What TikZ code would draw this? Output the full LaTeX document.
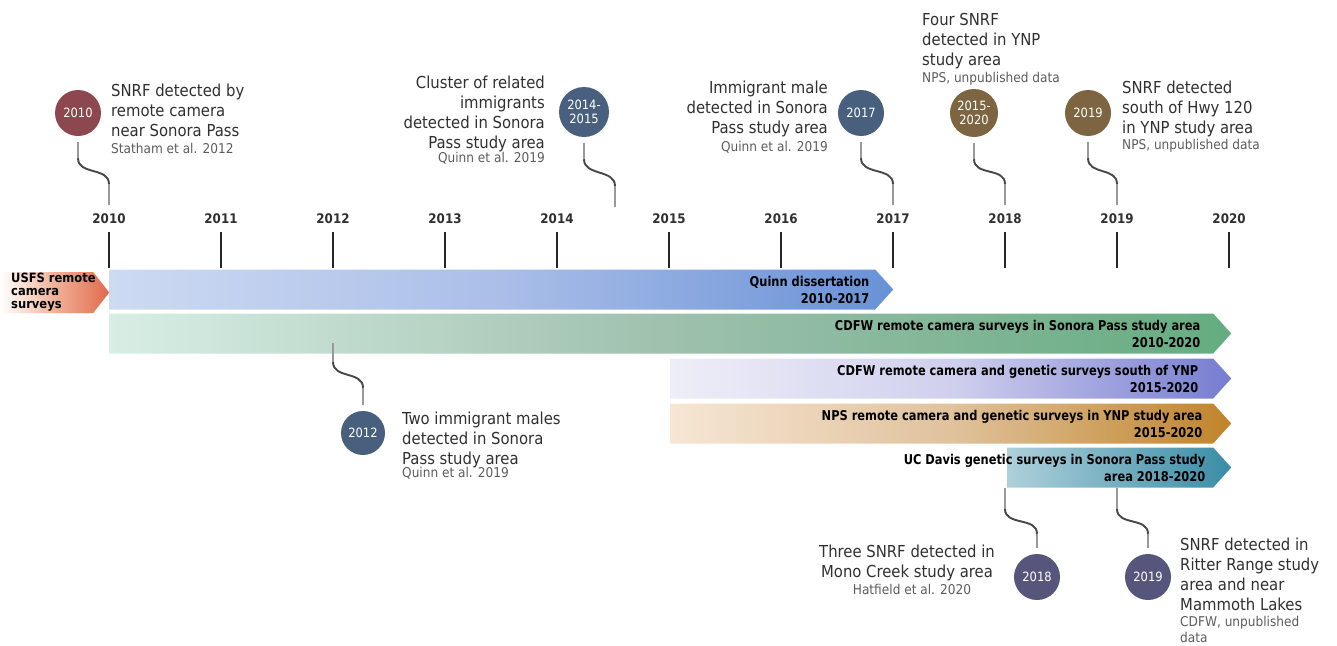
\documentclass[tikz,border=0pt]{standalone}
\usepackage{fontspec}
\setmainfont{DejaVu Sans Condensed}[BoldFont={DejaVu Sans Condensed Bold}]
\newfontfamily\barfont{DejaVu Sans Condensed Bold}[FakeStretch=0.94]
\usepackage{tikz}
\usetikzlibrary{positioning, shapes.symbols}
\definecolor{tlInk}{RGB}{48,48,48}
\definecolor{tlRef}{RGB}{92,92,92}
\definecolor{evRed}{RGB}{140,72,78}
\definecolor{evSlate}{RGB}{72,96,126}
\definecolor{evBrown}{RGB}{124,101,64}
\definecolor{evPurple}{RGB}{86,86,124}
\definecolor{usfsM}{RGB}{240,178,152}
\definecolor{usfsR}{RGB}{225,106,76}
\definecolor{blueL}{RGB}{205,218,242}
\definecolor{blueM}{RGB}{170,190,232}
\definecolor{blueR}{RGB}{104,145,214}
\definecolor{greenL}{RGB}{216,238,229}
\definecolor{greenM}{RGB}{158,192,173}
\definecolor{greenR}{RGB}{100,172,128}
\definecolor{purpL}{RGB}{238,238,248}
\definecolor{purpM}{RGB}{208,208,238}
\definecolor{purpR}{RGB}{118,124,208}
\definecolor{tanL}{RGB}{246,230,212}
\definecolor{tanM}{RGB}{224,194,156}
\definecolor{tanR}{RGB}{192,132,42}
\definecolor{tealL}{RGB}{174,208,218}
\definecolor{tealR}{RGB}{58,140,166}

\begin{document}
\begin{tikzpicture}[x=1pt,y=-1pt,
  ev/.style={circle,inner sep=0pt,minimum size=46pt,text=white,
             align=center,font=\fontsize{12.8}{14}\selectfont},
  txt/.style={inner sep=0pt,text=tlInk,font=\fontsize{16.5}{20}\selectfont},
  ref/.style={inner sep=0pt,text=tlRef,font=\fontsize{13.5}{16}\selectfont},
  yr/.style={inner sep=0pt,text=tlInk,font=\bfseries\fontsize{13.2}{15}\selectfont},
  tick/.style={draw=black!85,line width=1.6pt},
  bar/.style={signal,signal to=east,signal pointer angle=96,inner sep=0pt,
              minimum height=40pt,anchor=west},
  btxt/.style={inner sep=0pt,align=right,text=black,
               font=\barfont\fontsize{13.5}{17}\selectfont},
  stem/.style={draw=black!40,line width=1.5pt},
  wave/.style={draw=black!72,line width=1.9pt}]
\useasboundingbox (0,0) rectangle (1337,645);

% axis
\foreach \yr [count=\i from 0] in {2010,...,2020} {
  \node[yr] (Y\yr) at ({109+112*\i},219) {\yr};
  \draw[tick] ({109+112*\i},232) -- ++(0,36);
}

% survey bars
\node[bar,minimum width=784pt,left color=blueL,right color=blueR,
      middle color=blueM] (Bquinn) at (109,289.5) {};
\node[bar,signal pointer angle=104,minimum width=109pt,minimum height=41pt,
      left color=white,right color=usfsR,middle color=usfsM] (Busfs) at (0,292.5) {};
\node[bar,minimum width=1122pt,left color=greenL,right color=greenR,
      middle color=greenM] (Bgreen) at (109,333.5) {};
\node[bar,minimum width=561pt,left color=purpL,right color=purpR,
      middle color=purpM] (Bpurp) at (670,378.5) {};
\node[bar,minimum width=561pt,left color=tanL,right color=tanR,
      middle color=tanM] (Btan) at (670,423.5) {};
\node[bar,minimum width=224pt,left color=tealL,right color=tealR] (Bteal) at (1007,467.5) {};

\node[inner sep=0pt,align=left,font=\bfseries\fontsize{12.8}{13}\selectfont,
      right=11pt of Busfs.west] (Lusfs) {USFS remote\\camera\\surveys};
\node[btxt,left=24pt of Bquinn.east] (Lquinn) {Quinn dissertation\\2010-2017};
\node[btxt,left=31pt of Bgreen.east] (Lgreen)
  {CDFW remote camera surveys in Sonora Pass study area\\2010-2020};
\node[btxt,left=33pt of Bpurp.east] (Lpurp)
  {CDFW remote camera and genetic surveys south of YNP\\2015-2020};
\node[btxt,left=29pt of Btan.east] (Ltan)
  {NPS remote camera and genetic surveys in YNP study area\\2015-2020};
\node[btxt,left=26pt of Bteal.east] (Lteal)
  {UC Davis genetic surveys in Sonora Pass study\\area 2018-2020};

% events above the axis
\node[ev,fill=evRed] (E10) at (78,113) {2010};
\node[txt,anchor=north west,align=left] (T10) at (111,83.5)
  {SNRF detected by\\remote camera\\near Sonora Pass};
\node[ref,anchor=north west] (R10) at (111,143.5) {Statham et al. 2012};

\node[ev,fill=evSlate,minimum size=50pt] (E1415) at (584,112) {2014-\\2015};
\node[txt,anchor=north east,align=right] (T1415) at (545,75.5)
  {Cluster of related\\immigrants\\detected in Sonora\\Pass study area};
\node[ref,anchor=north east] (R1415) at (545,152.5) {Quinn et al. 2019};

\node[ev,fill=evSlate] (E17) at (861,113) {2017};
\node[txt,anchor=north east,align=right] (T17) at (828,80.5)
  {Immigrant male\\detected in Sonora\\Pass study area};
\node[ref,anchor=north east] (R17) at (828,141.5) {Quinn et al. 2019};

\node[ev,fill=evBrown,minimum size=48pt] (E1520) at (974,113) {2015-\\2020};
\node[txt,anchor=north west,align=left] (T1520) at (922,13.5)
  {Four SNRF\\detected in YNP\\study area};
\node[ref,anchor=north west] (R1520) at (922,72.5) {NPS, unpublished data};

\node[ev,fill=evBrown] (E19) at (1088,113) {2019};
\node[txt,anchor=north west,align=left] (T19) at (1122,80.5)
  {SNRF detected\\south of Hwy 120\\in YNP study area};
\node[ref,anchor=north west] (R19) at (1122,139.5) {NPS, unpublished data};

% events below the bars
\node[ev,fill=evSlate,minimum size=44pt] (E12) at (363,433) {2012};
\node[txt,anchor=north west,align=left] (T12) at (402,411.5)
  {Two immigrant males\\detected in Sonora\\Pass study area};
\node[ref,anchor=north west] (R12) at (402,467.5) {Quinn et al. 2019};

\node[ev,fill=evPurple] (E18) at (1037,577) {2018};
\node[txt,anchor=north,align=center] (T18) at (907,544.5)
  {Three SNRF detected in\\Mono Creek study area};
\node[ref,anchor=north] (R18) at (912,584.5) {Hatfield et al. 2020};

\node[ev,fill=evPurple] (E19b) at (1148,577) {2019};
\node[txt,anchor=north west,align=left] (T19b) at (1180,537.5)
  {SNRF detected in\\Ritter Range study\\area and near\\Mammoth Lakes};
\node[ref,anchor=north west,align=left] (R19b) at (1180,616.5) {CDFW, unpublished\\data};

% connectors
\coordinate (e10) at (109,205);
\coordinate (e1415) at (615,207);
\coordinate (e17) at (893,205);
\coordinate (e1520) at (1005,205);
\coordinate (e19) at (1117,205);
\coordinate (s12) at (333,343);
\coordinate (s18) at (1005,488);
\coordinate (s19b) at (1117,488);

\draw[stem] ([yshift=-6pt]E10.south) -- ++(0,16) coordinate (E10a);
\draw[stem] (e10) -- ++(0,-21) coordinate (e10a);
\draw[wave] (E10a) .. controls +(0,17) and +(0,-17) .. (e10a);

\draw[stem] ([yshift=-6pt]E1415.south) -- ++(0,16) coordinate (E1415a);
\draw[stem] (e1415) -- ++(0,-21) coordinate (e1415a);
\draw[wave] (E1415a) .. controls +(0,17) and +(0,-17) .. (e1415a);

\draw[stem] ([yshift=-6pt]E17.south) -- ++(0,16) coordinate (E17a);
\draw[stem] (e17) -- ++(0,-21) coordinate (e17a);
\draw[wave] (E17a) .. controls +(0,17) and +(0,-17) .. (e17a);

\draw[stem] ([yshift=-6pt]E1520.south) -- ++(0,16) coordinate (E1520a);
\draw[stem] (e1520) -- ++(0,-21) coordinate (e1520a);
\draw[wave] (E1520a) .. controls +(0,17) and +(0,-17) .. (e1520a);

\draw[stem] ([yshift=-6pt]E19.south) -- ++(0,16) coordinate (E19a);
\draw[stem] (e19) -- ++(0,-21) coordinate (e19a);
\draw[wave] (E19a) .. controls +(0,17) and +(0,-17) .. (e19a);

\draw[stem] (s12) -- ++(0,19) coordinate (s12a);
\draw[stem] ([yshift=6pt]E12.north) -- ++(0,-17) coordinate (E12a);
\draw[wave] (s12a) .. controls +(0,17) and +(0,-17) .. (E12a);

\draw[stem] (s18) -- ++(0,21) coordinate (s18a);
\draw[stem] ([yshift=6pt]E18.north) -- ++(0,-14) coordinate (E18a);
\draw[wave] (s18a) .. controls +(0,17) and +(0,-17) .. (E18a);

\draw[stem] (s19b) -- ++(0,21) coordinate (s19ba);
\draw[stem] ([yshift=6pt]E19b.north) -- ++(0,-14) coordinate (E19ba);
\draw[wave] (s19ba) .. controls +(0,17) and +(0,-17) .. (E19ba);
\end{tikzpicture}
\end{document}
